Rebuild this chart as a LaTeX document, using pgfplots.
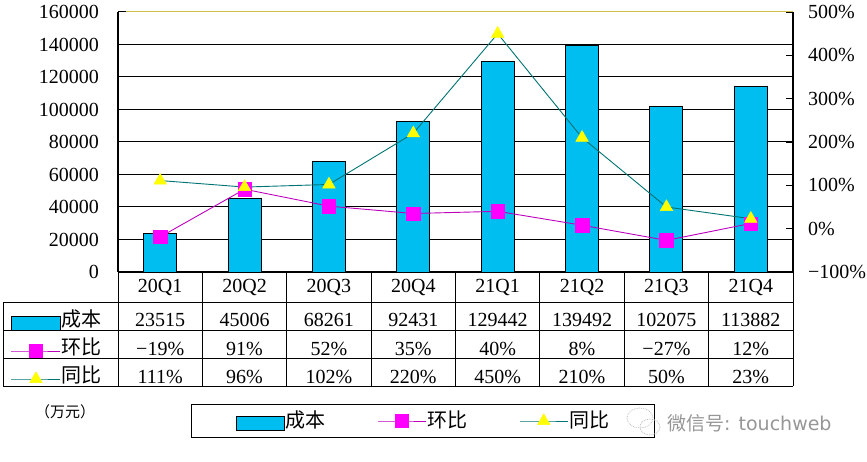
\documentclass[border=0pt]{standalone}
\usepackage{pgfplots}
\pgfplotsset{compat=1.18}
\usepackage{fontspec}
\setmainfont{Liberation Serif}
\newfontfamily\cjk{Noto Sans CJK SC}
\newfontfamily\dvs{DejaVu Sans}
\definecolor{barcyan}{RGB}{0,190,240}
\definecolor{magmark}{RGB}{255,0,255}
\definecolor{magline}{RGB}{190,0,190}
\definecolor{tealline}{RGB}{0,115,115}
\definecolor{triyellow}{RGB}{255,255,0}
\definecolor{topline}{RGB}{205,190,70}
\definecolor{wmgray}{RGB}{150,150,150}
\tikzset{
  barstyle/.style={fill=barcyan, draw=black, line width=0.9pt},
  hbstyle/.style={color=magline, line width=0.9pt, mark=square*, mark size=6.7pt, mark options={fill=magmark, draw=magmark, line width=0.5pt}},
  tbstyle/.style={color=tealline, line width=0.9pt, mark=triangle*, mark size=7.2pt, mark options={fill=triyellow, draw=triyellow, line width=0.5pt}},
}
\pgfplotsset{
  mainbox/.style={at={(118pt,-272pt)}, anchor=south west, scale only axis, width=675pt, height=260pt, xmin=-0.5, xmax=7.5},
}
\begin{document}
\fontsize{20}{24}\selectfont%
\begin{tikzpicture}
\useasboundingbox (0pt,0pt) rectangle (867pt,-462pt);
% ---- left axis: bars
\begin{axis}[mainbox,
  ymin=0, ymax=160000,
  axis y line*=left, axis x line*=bottom,
  axis line style={line width=1.1pt, -},
  scaled y ticks=false,
  ytick={0,20000,40000,60000,80000,100000,120000,140000},
  yticklabels={0,20000,40000,60000,80000,100000,120000,140000},
  extra y ticks={160000}, extra y tick labels={160000},
  extra y tick style={grid style={draw=topline, line width=1pt}},
  ymajorgrids, grid style={black, line width=1pt},
  tick align=inside, major tick length=8pt,
  ytick style={black, line width=1pt},
  yticklabel style={inner sep=0pt, xshift=-19pt},
  xtick={0,...,7},
  xticklabels={20Q1,20Q2,20Q3,20Q4,21Q1,21Q2,21Q3,21Q4},
  xtick style={draw=none},
  xticklabel style={inner sep=0pt, anchor=base, yshift=-21pt},
]
\addplot[ybar, bar width=33pt, bar shift=0pt, barstyle] coordinates {(0,23515) (1,45006) (2,68261) (3,92431) (4,129442) (5,139492) (6,102075) (7,113882)};
\end{axis}
% ---- right axis: percentages
\begin{axis}[mainbox,
  ymin=-100, ymax=500,
  axis y line*=right, axis x line=none, xtick=\empty,
  axis line style={line width=1.1pt, -},
  ytick={-100,0,100,200,300,400,500},
  yticklabels={−100\%,0\%,100\%,200\%,300\%,400\%,500\%},
  tick align=inside, major tick length=7pt,
  ytick style={black, line width=1pt},
  yticklabel style={inner sep=0pt, anchor=west, xshift=15pt},
]
\addplot[hbstyle] coordinates {(0,-19) (1,91) (2,52) (3,35) (4,40) (5,8) (6,-27) (7,12)};
\addplot[tbstyle] coordinates {(0,111) (1,96) (2,102) (3,220) (4,450) (5,210) (6,50) (7,23)};
\end{axis}
% ---- data table grid
\begin{scope}[line width=1pt]
  \foreach \k in {0,...,8} {
    \draw ({118pt+84.375pt*\k},-272pt) -- ({118pt+84.375pt*\k},-386pt);
  }
  \foreach \y in {302,330,358,386} {
    \draw (3pt,-\y pt) -- (793pt,-\y pt);
  }
  \draw (3pt,-302pt) -- (3pt,-386pt);
\end{scope}
\foreach \v [count=\i from 0] in {23515,45006,68261,92431,129442,139492,102075,113882}
  \node[anchor=base, inner sep=0pt] at ({118pt+84.375pt*(\i+0.5)},-326pt) {\v};
\foreach \v [count=\i from 0] in {−19\%,91\%,52\%,35\%,40\%,8\%,−27\%,12\%}
  \node[anchor=base, inner sep=0pt] at ({118pt+84.375pt*(\i+0.5)},-355pt) {\v};
\foreach \v [count=\i from 0] in {111\%,96\%,102\%,220\%,450\%,210\%,50\%,23\%}
  \node[anchor=base, inner sep=0pt] at ({118pt+84.375pt*(\i+0.5)},-383pt) {\v};
% ---- legend keys inside the table
\begin{axis}[at={(0pt,-462pt)}, anchor=south west, scale only axis, width=867pt, height=462pt,
  xmin=0, xmax=1, ymin=0, ymax=1, hide axis,
  legend cell align=left,
  legend style={at={(0.012687,0.337662)}, anchor=north west, draw=none, fill=none,
    inner sep=0pt, outer sep=0pt, row sep=0pt, column sep=0pt,
    nodes={inner xsep=1pt, inner ysep=0pt, minimum height=28pt, anchor=west}, font=\cjk},
]
\addlegendimage{legend image code/.code={\draw[barstyle] (0pt,-10pt) rectangle (49pt,4pt);}}
\addlegendentry{成本}
\addlegendimage{hbstyle, legend image code/.code={\draw[mark repeat=2,mark phase=2] plot coordinates {(0pt,-3pt) (24.5pt,-3pt) (49pt,-3pt)};}}
\addlegendentry{环比}
\addlegendimage{tbstyle, legend image code/.code={\draw[mark repeat=2,mark phase=2] plot coordinates {(0pt,-3pt) (24.5pt,-3pt) (49pt,-3pt)};}}
\addlegendentry{同比}
\end{axis}
% ---- bottom legend
\begin{axis}[at={(0pt,-462pt)}, anchor=south west, scale only axis, width=867pt, height=462pt,
  xmin=0, xmax=1, ymin=0, ymax=1, hide axis,
  legend columns=3, legend cell align=left,
  legend style={at={(0.220300,0.125541)}, anchor=north west, draw=black, line width=1pt, fill=white,
    inner xsep=44pt, inner ysep=4pt,
    /tikz/every even column/.append style={column sep=51pt},
    nodes={inner xsep=1pt, inner ysep=0pt, minimum height=25pt, anchor=west}, font=\cjk},
]
\addlegendimage{legend image code/.code={\draw[barstyle] (0pt,-9pt) rectangle (48pt,5pt);}}
\addlegendentry{成本}
\addlegendimage{hbstyle, legend image code/.code={\draw[mark repeat=2,mark phase=2] plot coordinates {(0pt,0pt) (24pt,0pt) (48pt,0pt)};}}
\addlegendentry{环比}
\addlegendimage{tbstyle, legend image code/.code={\draw[mark repeat=2,mark phase=2] plot coordinates {(0pt,0pt) (24pt,0pt) (48pt,0pt)};}}
\addlegendentry{同比}
\end{axis}
% ---- unit note and watermark
\node[font=\cjk\fontsize{15}{18}\selectfont, inner sep=0pt] at (65pt,-412pt) {（万元）};
\draw[wmgray!60, line width=0.8pt, densely dotted] (640pt,-418pt) ellipse (13pt and 10pt);
\draw[wmgray!60, line width=0.8pt, densely dotted] (650pt,-427pt) ellipse (10pt and 8pt);
\node[anchor=west, inner sep=0pt, text=wmgray, font=\fontsize{19}{22}\selectfont] at (667pt,-423pt) {{\cjk 微信号}{\dvs : touchweb}};
\end{tikzpicture}
\end{document}
